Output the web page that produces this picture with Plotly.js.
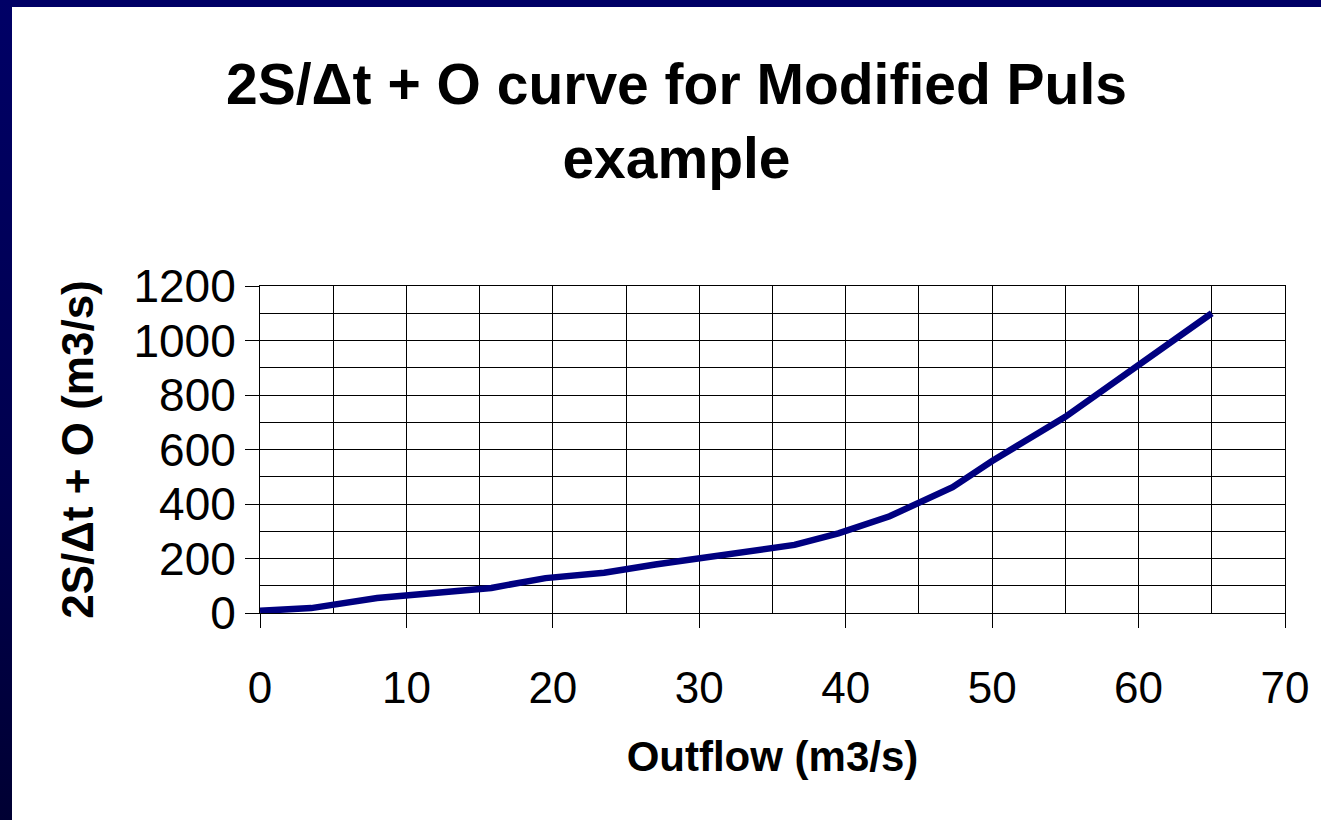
<!DOCTYPE html>
<html>
<head>
<meta charset="utf-8">
<script src="https://cdn.plot.ly/plotly-3.0.1.min.js"></script>
<style>
  html, body { margin: 0; padding: 0; }
  body {
    width: 1321px; height: 820px; overflow: hidden;
    background: linear-gradient(to bottom, #000066 0%, #00004d 60%, #000033 100%);
    position: relative;
  }
  #chart { position: absolute; left: 12px; top: 7px; width: 1309px; height: 813px; background: #fff; }
</style>
</head>
<body>
<div id="chart"></div>
<script>
// Outflow (m3/s)
const outflow = [0, 3.5, 8, 15.8, 19.5, 23.5, 27, 31, 34.8, 36.5, 39.5, 43, 47.3, 50, 55, 60, 65];
// 2S/Δt + O (m3/s)
const storageIndication = [8, 18, 55, 92, 128, 148, 178, 208, 242, 250, 292, 355, 462, 558, 720, 910, 1100];

const titleText = '2S/\u0394t + O curve for Modified Puls<br>example';
const xTitle = 'Outflow (m3/s)';
const yTitle = '2S/\u0394t + O (m3/s)';

const trace = {
  x: outflow,
  y: storageIndication,
  type: 'scatter',
  mode: 'lines',
  line: { color: '#000080', width: 6.5 },
  hoverinfo: 'skip',
  showlegend: false
};

const font = 'Liberation Sans, Arial, sans-serif';

const layout = {
  width: 1309,
  height: 813,
  paper_bgcolor: '#ffffff',
  plot_bgcolor: '#ffffff',
  margin: { l: 247.5, r: 36, t: 279, b: 207 },
  title: {
    text: titleText,
    font: { family: font, size: 57, color: '#000', weight: 'bold' },
    x: 0.5 + 10 / 1309, xref: 'container', xanchor: 'center',
    y: 1 - 97 / 813, yref: 'container', yanchor: 'top'
  },
  xaxis: {
    range: [0, 70],
    dtick: 10,
    tick0: 0,
    showgrid: true,
    gridcolor: '#000',
    gridwidth: 1,
    minor: { dtick: 5, showgrid: true, gridcolor: '#000', gridwidth: 1, ticks: '' },
    zeroline: false,
    showline: true,
    linecolor: '#000',
    linewidth: 1,
    mirror: true,
    ticks: 'outside',
    ticklen: 14,
    tickcolor: '#000',
    tickwidth: 1,
    ticklabelstandoff: 22,
    tickfont: { family: font, size: 44, color: '#000' },
    title: { text: xTitle, font: { family: font, size: 42, color: '#000', weight: 'bold' }, standoff: 30 }
  },
  yaxis: {
    range: [0, 1200],
    dtick: 200,
    tick0: 0,
    showgrid: true,
    gridcolor: '#000',
    gridwidth: 1,
    minor: { dtick: 100, showgrid: true, gridcolor: '#000', gridwidth: 1, ticks: '' },
    zeroline: false,
    showline: true,
    linecolor: '#000',
    linewidth: 1,
    mirror: true,
    ticks: 'outside',
    ticklen: 14,
    tickcolor: '#000',
    tickwidth: 1,
    ticklabelstandoff: 0,
    tickfont: { family: font, size: 46, color: '#000' },
    title: { text: yTitle, font: { family: font, size: 44, color: '#000', weight: 'bold' }, standoff: 26 }
  }
};

Plotly.newPlot('chart', [trace], layout, { displayModeBar: false, staticPlot: true });
</script>
</body>
</html>
